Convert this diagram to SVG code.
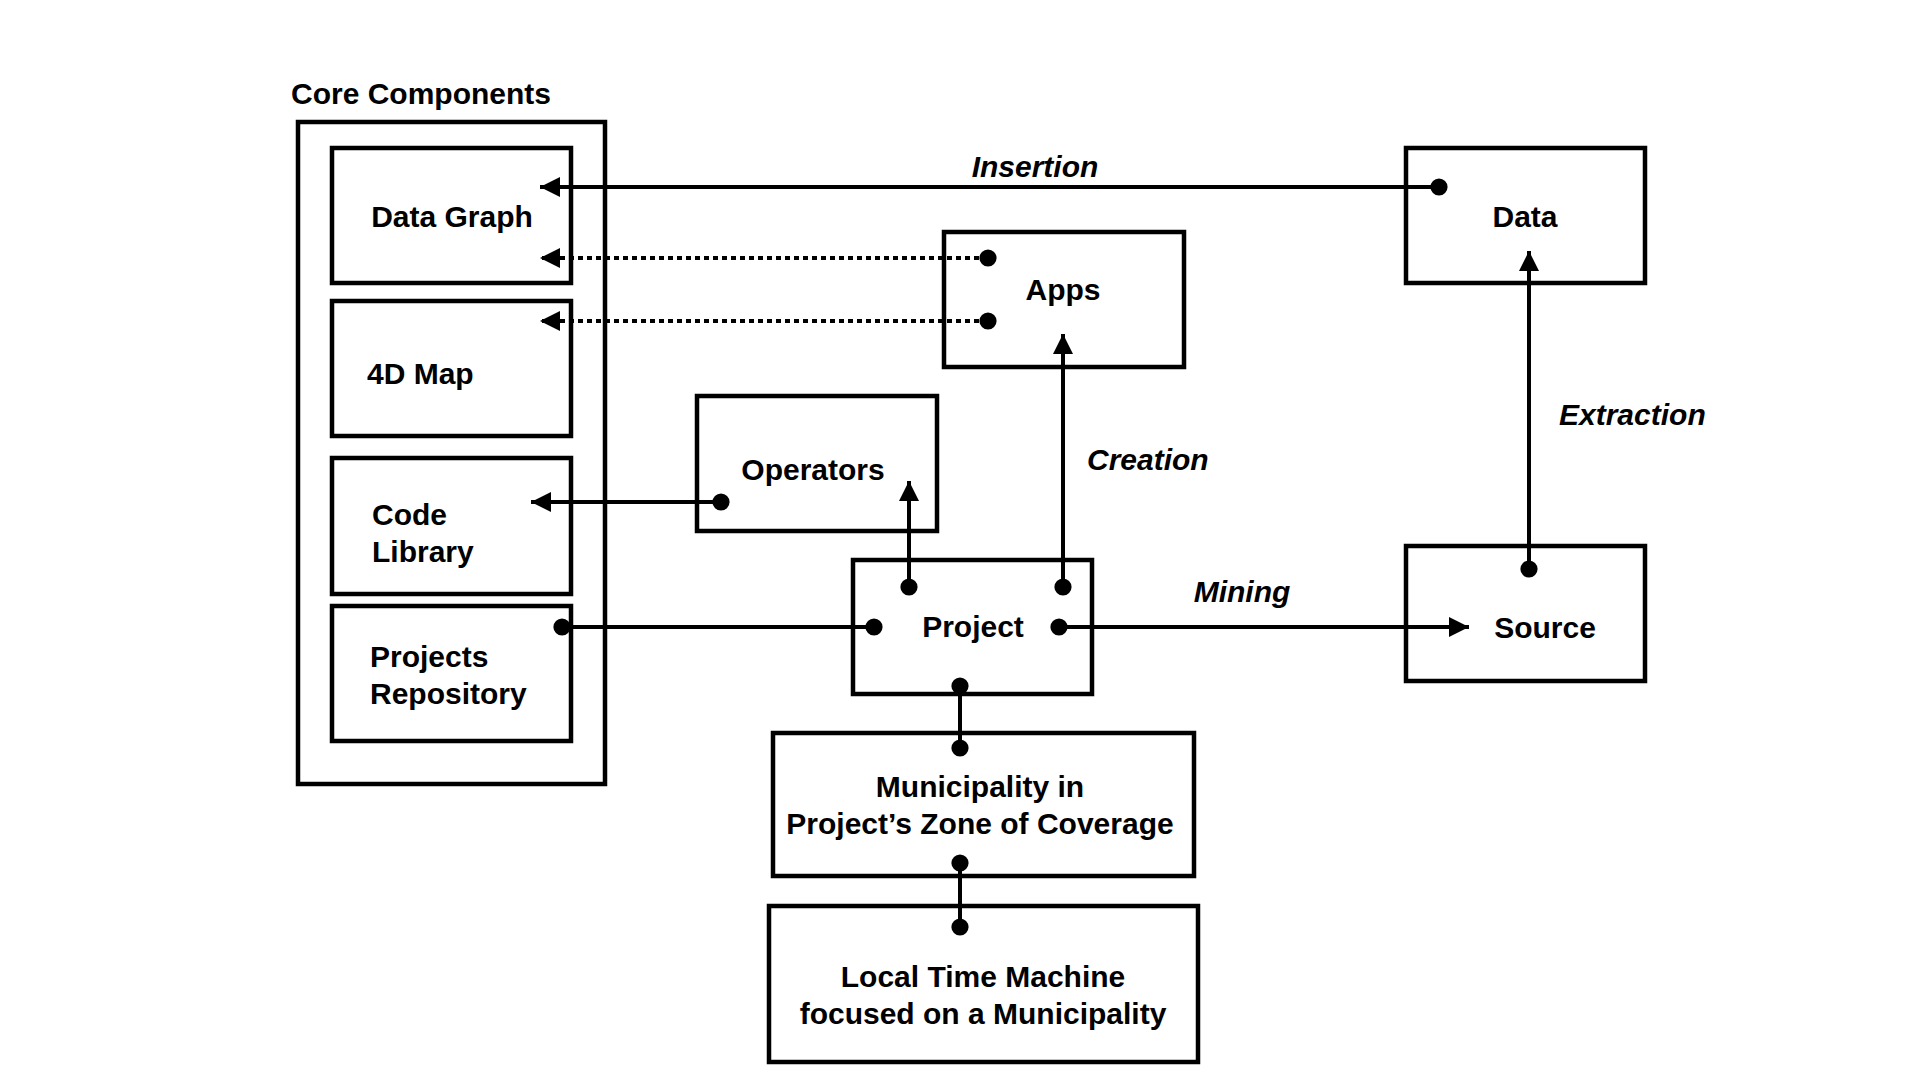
<svg xmlns="http://www.w3.org/2000/svg" width="1920" height="1080" viewBox="0 0 1920 1080">
<defs>
<style>
.box{fill:#fff;stroke:#000;stroke-width:4.5}
.outer{fill:none;stroke:#000;stroke-width:4.5}
.t{font-family:"Liberation Sans",Arial,sans-serif;font-weight:bold;font-size:30px;fill:#000}
.c{text-anchor:middle}
.lbl{font-family:"Liberation Sans",Arial,sans-serif;font-weight:bold;font-style:italic;font-size:30px;fill:#000}
.ln{stroke:#000;stroke-width:4;fill:none}
.dot{stroke:#000;stroke-width:4;fill:none;stroke-dasharray:5 4}
</style>
<marker id="arr" viewBox="0 0 10 10" refX="10" refY="5" markerWidth="5" markerHeight="5" markerUnits="strokeWidth" orient="auto">
<path d="M0,0 L10,5 L0,10 z" fill="#000"/>
</marker>
<marker id="dt" viewBox="0 0 10 10" refX="5" refY="5" markerWidth="4.3" markerHeight="4.3" markerUnits="strokeWidth" orient="auto">
<circle cx="5" cy="5" r="5" fill="#000"/>
</marker>
</defs>
<rect width="1920" height="1080" fill="#fff"/>
<text class="t" x="291" y="104">Core Components</text>
<g id="core-components"><rect class="outer" x="298" y="122" width="307" height="662"/></g>
<g id="data-graph"><rect class="box" x="332" y="148" width="239" height="135"/><text class="t c" x="452" y="227">Data Graph</text></g>
<g id="map-4d"><rect class="box" x="332" y="301" width="239" height="135"/><text class="t" x="367" y="384">4D Map</text></g>
<g id="code-library"><rect class="box" x="332" y="458" width="239" height="136"/><text class="t" x="372" y="525">Code</text><text class="t" x="372" y="562">Library</text></g>
<g id="projects-repository"><rect class="box" x="332" y="606" width="239" height="135"/><text class="t" x="370" y="667">Projects</text><text class="t" x="370" y="704">Repository</text></g>
<g id="apps"><rect class="box" x="944" y="232" width="240" height="135"/><text class="t c" x="1063" y="300">Apps</text></g>
<g id="operators"><rect class="box" x="697" y="396" width="240" height="135"/><text class="t c" x="813" y="480">Operators</text></g>
<g id="data"><rect class="box" x="1406" y="148" width="239" height="135"/><text class="t c" x="1525" y="227">Data</text></g>
<g id="source"><rect class="box" x="1406" y="546" width="239" height="135"/><text class="t c" x="1545" y="638">Source</text></g>
<g id="project"><rect class="box" x="853" y="560" width="239" height="134"/><text class="t c" x="973" y="637">Project</text></g>
<g id="municipality"><rect class="box" x="773" y="733" width="421" height="143"/><text class="t c" x="980" y="797">Municipality in</text><text class="t c" x="980" y="834">Project’s Zone of Coverage</text></g>
<g id="local-time-machine"><rect class="box" x="769" y="906" width="429" height="156"/><text class="t c" x="983" y="987">Local Time Machine</text><text class="t c" x="983" y="1024">focused on a Municipality</text></g>
<g id="connectors">
<line class="ln" x1="1439" y1="187" x2="540" y2="187" marker-start="url(#dt)" marker-end="url(#arr)"/>
<line class="dot" x1="988" y1="258" x2="540" y2="258" marker-start="url(#dt)" marker-end="url(#arr)"/>
<line class="dot" x1="988" y1="321" x2="540" y2="321" marker-start="url(#dt)" marker-end="url(#arr)"/>
<line class="ln" x1="721" y1="502" x2="531" y2="502" marker-start="url(#dt)" marker-end="url(#arr)"/>
<line class="ln" x1="562" y1="627" x2="874" y2="627" marker-start="url(#dt)" marker-end="url(#dt)"/>
<line class="ln" x1="909" y1="587" x2="909" y2="481" marker-start="url(#dt)" marker-end="url(#arr)"/>
<line class="ln" x1="1063" y1="587" x2="1063" y2="334" marker-start="url(#dt)" marker-end="url(#arr)"/>
<line class="ln" x1="1059" y1="627" x2="1469" y2="627" marker-start="url(#dt)" marker-end="url(#arr)"/>
<line class="ln" x1="1529" y1="569" x2="1529" y2="251" marker-start="url(#dt)" marker-end="url(#arr)"/>
<line class="ln" x1="960" y1="686" x2="960" y2="748" marker-start="url(#dt)" marker-end="url(#dt)"/>
<line class="ln" x1="960" y1="863" x2="960" y2="927" marker-start="url(#dt)" marker-end="url(#dt)"/>
<text class="lbl c" x="1035" y="177">Insertion</text>
<text class="lbl" x="1087" y="470">Creation</text>
<text class="lbl c" x="1242" y="602">Mining</text>
<text class="lbl" x="1559" y="425">Extraction</text>
</g>
</svg>
